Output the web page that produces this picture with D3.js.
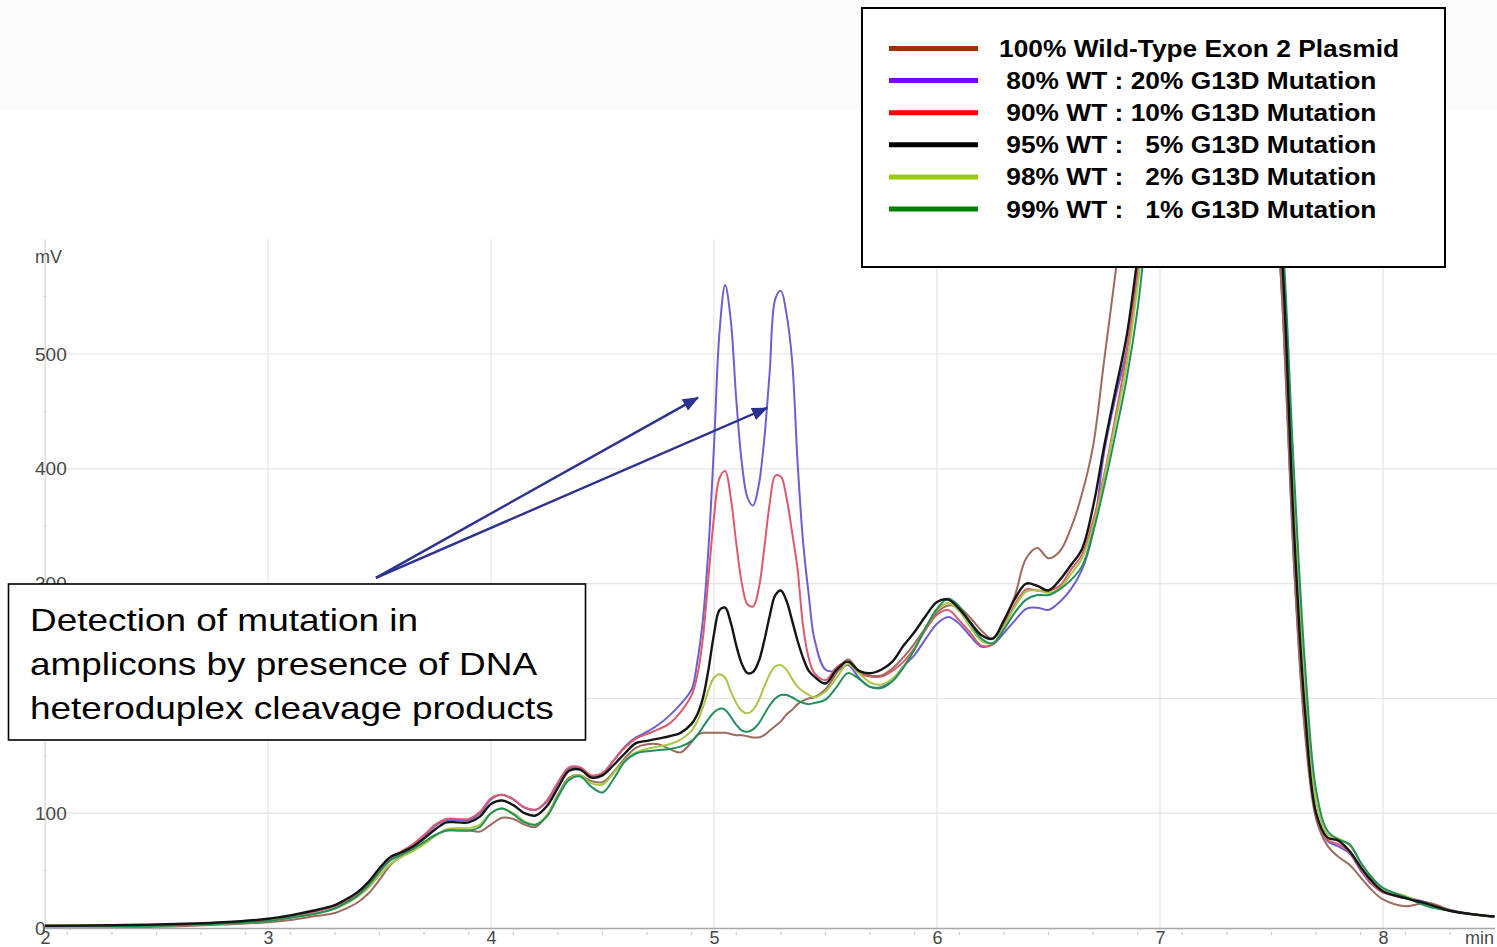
<!DOCTYPE html>
<html>
<head>
<meta charset="utf-8">
<script src="https://cdn.jsdelivr.net/npm/d3@7"></script>
<style>
  html, body { margin: 0; padding: 0; background: #ffffff; }
  svg { display: block; font-family: "Liberation Sans", Arial, sans-serif; }
  .pre { white-space: pre; }
</style>
</head>
<body>
<script>
// Retention time grid (min), shared by every trace
const times = [
  2.0, 2.5, 2.8, 3.0, 3.1, 3.2, 3.3, 3.35, 3.4, 3.45,
  3.5, 3.55, 3.6, 3.65, 3.7, 3.75, 3.8, 3.85, 3.9, 3.95,
  4.0, 4.05, 4.1, 4.15, 4.2, 4.25, 4.3, 4.35, 4.4, 4.45,
  4.5, 4.55, 4.6, 4.65, 4.7, 4.75, 4.8, 4.85, 4.9, 4.925,
  4.95, 4.975, 5.0, 5.025, 5.05, 5.075, 5.1, 5.125, 5.15, 5.175,
  5.2, 5.225, 5.25, 5.275, 5.3, 5.325, 5.35, 5.375, 5.4, 5.425,
  5.45, 5.5, 5.55, 5.6, 5.65, 5.7, 5.75, 5.8, 5.85, 5.9,
  5.95, 6.0, 6.05, 6.1, 6.15, 6.2, 6.25, 6.3, 6.35, 6.4,
  6.45, 6.5, 6.55, 6.6, 6.65, 6.7, 6.75, 6.8, 6.85, 6.9,
  6.95, 7.0, 7.1, 7.2, 7.3, 7.4, 7.45, 7.5, 7.55, 7.6,
  7.65, 7.7, 7.75, 7.8, 7.85, 7.9, 7.95, 8.0, 8.1, 8.2,
  8.3, 8.4, 8.5
];

// Detector signal (mV) for each sample
const wt100 = [
  0, 1, 3, 5, 7, 10, 13, 17, 22, 30,
  42, 55, 63, 69, 74, 81, 85, 85, 85, 84,
  90, 96, 95, 90, 88, 98, 116, 131, 133, 128,
  127, 136, 148, 157, 160, 160, 156, 153, 162, 168,
  170, 170, 170, 170, 170, 169, 168, 168, 167, 166,
  166, 168, 172, 176, 180, 186, 190, 195, 198, 200,
  201, 208, 222, 234, 224, 220, 220, 226, 236, 248,
  262, 275, 281, 279, 270, 259, 252, 266, 290, 322,
  331, 322, 328, 348, 378, 420, 495, 570, 650, 730,
  810, 880, 1000, 1050, 1000, 900, 810, 690, 540, 320,
  170, 95, 72, 62, 55, 44, 33, 25, 19, 22,
  16, 12, 10
];
const wt80 = [
  1, 2, 4, 7, 10, 14, 19, 23, 29, 37,
  49, 60, 66, 72, 80, 89, 94, 94, 94, 100,
  112, 116, 112, 105, 103, 110, 126, 139, 139, 132,
  135, 146, 158, 166, 171, 177, 185, 195, 208, 232,
  268, 330, 420, 520, 560, 530, 460, 405, 375, 368,
  385, 425, 485, 548, 555, 535, 495, 405, 335, 290,
  252, 225, 224, 229, 218, 210, 210, 216, 228, 238,
  252, 265, 271, 265, 254, 245, 247, 257, 268, 278,
  279, 277, 284, 295, 312, 345, 415, 462, 503, 570,
  650, 740, 900, 1000, 1000, 900, 810, 690, 540, 320,
  175, 100, 76, 71, 65, 50, 38, 31, 27, 22,
  15, 12, 10
];
const wt90 = [
  1, 2, 4, 7, 10, 14, 19, 24, 30, 38,
  50, 61, 67, 73, 81, 90, 95, 95, 95, 101,
  113, 116, 112, 105, 103, 111, 127, 140, 140, 133,
  135, 146, 157, 165, 169, 173, 178, 188, 203, 220,
  252, 305, 358, 392, 398, 375, 335, 300, 282, 280,
  295, 330, 370, 394, 393, 375, 345, 312, 262, 235,
  222, 216, 227, 232, 222, 219, 219, 224, 232, 244,
  260, 273, 277, 268, 257, 246, 247, 263, 282, 295,
  294, 294, 298, 312, 325, 355, 395, 445, 500, 575,
  655, 745, 900, 1000, 1000, 900, 815, 695, 560, 335,
  180, 100, 77, 73, 66, 51, 39, 31, 26, 21,
  15, 12, 10
];
const wt95 = [
  2, 3, 5, 8, 11, 15, 20, 25, 31, 40,
  52, 62, 66, 71, 78, 86, 92, 92, 92, 97,
  108, 111, 107, 100, 98, 106, 122, 137, 138, 131,
  133, 142, 152, 161, 163, 165, 167, 170, 178, 186,
  200, 225, 256, 277, 279, 266, 246, 230, 222, 223,
  232, 250, 272, 290, 294, 285, 268, 250, 235, 224,
  219, 213, 225, 232, 224, 222, 225, 232, 246, 258,
  272, 284, 286, 278, 266, 255, 252, 268, 287, 300,
  298, 294, 303, 316, 330, 367, 420, 468, 515, 585,
  660, 750, 900, 1000, 1000, 900, 820, 700, 575, 350,
  190, 100, 79, 76, 67, 53, 41, 32, 26, 21,
  15, 12, 10
];
const wt98 = [
  1, 2, 4, 6, 9, 12, 17, 21, 27, 35,
  46, 56, 62, 67, 73, 80, 86, 87, 87, 90,
  100, 104, 100, 93, 90, 98, 115, 130, 133, 126,
  125, 135, 146, 153, 156, 158, 160, 164, 172, 180,
  192, 207, 218, 221, 218, 206, 196, 189, 187, 190,
  198, 210, 221, 228, 229, 225, 217, 210, 206, 203,
  201, 206, 218, 230, 222, 214, 212, 217, 228, 243,
  262, 277, 283, 276, 262, 250, 248, 262, 280, 293,
  294, 292, 296, 308, 322, 350, 392, 440, 490, 560,
  640, 730, 900, 1000, 1000, 900, 820, 700, 590, 380,
  215, 110, 82, 78, 72, 57, 44, 34, 28, 20,
  15, 12, 10
];
const wt99 = [
  2, 2, 4, 6, 9, 12, 17, 22, 28, 37,
  49, 59, 64, 69, 75, 81, 85, 85, 85, 88,
  100, 104, 99, 92, 90, 97, 114, 129, 132, 123,
  118, 130, 145, 152, 154, 155, 156, 158, 163, 168,
  175, 182, 188, 191, 190, 184, 177, 172, 171, 173,
  178, 186, 194, 200, 203, 203, 201, 198, 196, 195,
  196, 199, 210, 222, 217, 210, 209, 215, 227, 243,
  262, 278, 287, 280, 265, 252, 248, 260, 275, 286,
  290, 290, 295, 303, 315, 345, 385, 430, 478, 540,
  630, 720, 900, 1000, 1000, 900, 825, 710, 600, 400,
  230, 120, 85, 77, 73, 57, 44, 35, 27, 19,
  15, 12, 10
];

// Legend entries, in legend order
const legendLabels = [
  "100% Wild-Type Exon 2 Plasmid",
  " 80% WT : 20% G13D Mutation",
  " 90% WT : 10% G13D Mutation",
  " 95% WT :   5% G13D Mutation",
  " 98% WT :   2% G13D Mutation",
  " 99% WT :   1% G13D Mutation"
];
const legendColors = ["#993300", "#7f00ff", "#ff0000", "#000000", "#99cc00", "#008000"];
const traceColors  = ["#9b6b5c", "#6d5fd0", "#db5a6e", "#151515", "#a7c845", "#23905a"];
const traceValues  = [wt100, wt80, wt90, wt95, wt98, wt99];
// paint order: purple, red, brown, yellow-green, green, black on top
const drawOrder = [1, 2, 0, 4, 5, 3];

const xTicks = [2, 3, 4, 5, 6, 7, 8];
const yGrid = [100, 200, 300, 400, 500];
// the 200 label sits under the annotation box, so it is not printed
const yTickLabels = [0, 100, 300, 400, 500];

const annotationText = [
  "Detection of mutation in",
  "amplicons by presence of DNA",
  "heteroduplex cleavage products"
];
// arrow tail and heads in data units (min, mV)
const arrowTail = [3.484, 305];
const arrowHeads = [[4.928, 462], [5.238, 453]];

const W = 1497, H = 947;
const svg = d3.select("body").append("svg").attr("width", W).attr("height", H);

// faint band across the top
svg.append("rect").attr("x", 0).attr("y", 0).attr("width", W).attr("height", 110).attr("fill", "#fbfbfb");

const x = d3.scaleLinear().domain([2, 8.5]).range([45, 45 + 6.5 * 223]);
const y = d3.scaleLinear().domain([0, 600]).range([928, 239.2]);
const plotTop = y(600), plotBottom = y(0), plotLeft = x(2), plotRight = W;

// grid
const grid = svg.append("g");
grid.selectAll("line.h").data(yGrid).join("line")
  .attr("x1", plotLeft).attr("x2", plotRight)
  .attr("y1", d => y(d)).attr("y2", d => y(d))
  .attr("stroke", "#e4e4e4").attr("stroke-width", 1.2);
grid.selectAll("line.v").data(xTicks).join("line")
  .attr("x1", d => x(d)).attr("x2", d => x(d))
  .attr("y1", plotTop).attr("y2", plotBottom)
  .attr("stroke", "#e4e4e4").attr("stroke-width", 1.2);

// minor ticks
const minorX = d3.range(21, 85, 2).map(d => d / 10);
svg.append("g").selectAll("line").data(minorX).join("line")
  .attr("x1", d => x(d)).attr("x2", d => x(d))
  .attr("y1", plotBottom + 4).attr("y2", plotBottom + 7)
  .attr("stroke", "#c8c8c8").attr("stroke-width", 1.2);
const minorY = [50, 150, 250, 350, 450, 550];
svg.append("g").selectAll("line").data(minorY).join("line")
  .attr("x1", plotLeft - 2).attr("x2", plotLeft + 2)
  .attr("y1", d => y(d)).attr("y2", d => y(d))
  .attr("stroke", "#d8d8d8").attr("stroke-width", 1);

// axes
const xAxis = svg.append("g").attr("transform", `translate(0,${plotBottom})`)
  .call(d3.axisBottom(x).tickValues(xTicks).tickFormat(d3.format("d")).tickSizeInner(0).tickSizeOuter(0).tickPadding(3));
xAxis.select(".domain").attr("stroke", "#a8a8a8").attr("stroke-width", 1.6);
xAxis.selectAll("text").attr("font-size", 18).attr("fill", "#484848")
  .attr("font-family", "'Liberation Sans', Arial, sans-serif");

const yAxis = svg.append("g").attr("transform", `translate(${plotLeft},0)`)
  .call(d3.axisLeft(y).tickValues(yTickLabels).tickSizeInner(0).tickSizeOuter(0));
yAxis.select(".domain").attr("stroke", "#e0e0e0").attr("stroke-width", 1.2);
yAxis.selectAll("text").attr("x", -10).attr("text-anchor", "start")
  .attr("font-size", 19).attr("fill", "#484848")
  .attr("font-family", "'Liberation Sans', Arial, sans-serif");

svg.append("text").attr("x", plotLeft - 10).attr("y", 263)
  .attr("font-size", 18).attr("fill", "#484848").text("mV");
svg.append("text").attr("x", 1465).attr("y", plotBottom + 16)
  .attr("font-size", 18).attr("fill", "#484848").text("min");

// traces
svg.append("clipPath").attr("id", "plotClip").append("rect")
  .attr("x", plotLeft).attr("y", plotTop).attr("width", plotRight - plotLeft).attr("height", plotBottom - plotTop);
const line = d3.line().x((d, i) => x(times[i])).y(d => y(d)).curve(d3.curveCatmullRom.alpha(0.5));
const traces = svg.append("g").attr("clip-path", "url(#plotClip)");
drawOrder.forEach(k => {
  traces.append("path").datum(traceValues[k])
    .attr("d", line)
    .attr("fill", "none")
    .attr("stroke", traceColors[k])
    .attr("stroke-width", k === 3 ? 2.4 : 2)
    .attr("stroke-linejoin", "round");
});

// annotation arrows
const defs = svg.append("defs");
defs.append("marker").attr("id", "head")
  .attr("viewBox", "0 0 16 13").attr("markerWidth", 16).attr("markerHeight", 13)
  .attr("refX", 15).attr("refY", 6.5).attr("orient", "auto").attr("markerUnits", "userSpaceOnUse")
  .append("path").attr("d", "M0,0 L16,6.5 L0,13 z").attr("fill", "#2d3190");
arrowHeads.forEach(h => {
  svg.append("line")
    .attr("x1", x(arrowTail[0])).attr("y1", y(arrowTail[1]))
    .attr("x2", x(h[0])).attr("y2", y(h[1]))
    .attr("stroke", "#2d3190").attr("stroke-width", 2.4)
    .attr("marker-end", "url(#head)");
});

// annotation box
svg.append("rect").attr("x", 8.5).attr("y", 584).attr("width", 577).attr("height", 156)
  .attr("fill", "#ffffff").attr("stroke", "#000000").attr("stroke-width", 1.6);
annotationText.forEach((t, i) => {
  svg.append("g").attr("transform", `translate(30,${631 + i * 44}) scale(1.155,1)`)
    .append("text").attr("font-size", 32).attr("fill", "#000000").text(t);
});

// legend
svg.append("rect").attr("x", 862).attr("y", 8).attr("width", 583).attr("height", 259)
  .attr("fill", "#ffffff").attr("stroke", "#000000").attr("stroke-width", 2);
legendLabels.forEach((t, i) => {
  const cy = 48.5 + i * 32.1;
  svg.append("line").attr("x1", 889).attr("x2", 978).attr("y1", cy).attr("y2", cy)
    .attr("stroke", legendColors[i]).attr("stroke-width", 5);
  svg.append("g").attr("transform", `translate(999,${cy + 8.5}) scale(1.13,1)`)
    .append("text").attr("class", "pre").attr("font-size", 23.3).attr("font-weight", "bold")
    .attr("fill", "#000000").text(t);
});
</script>
</body>
</html>
